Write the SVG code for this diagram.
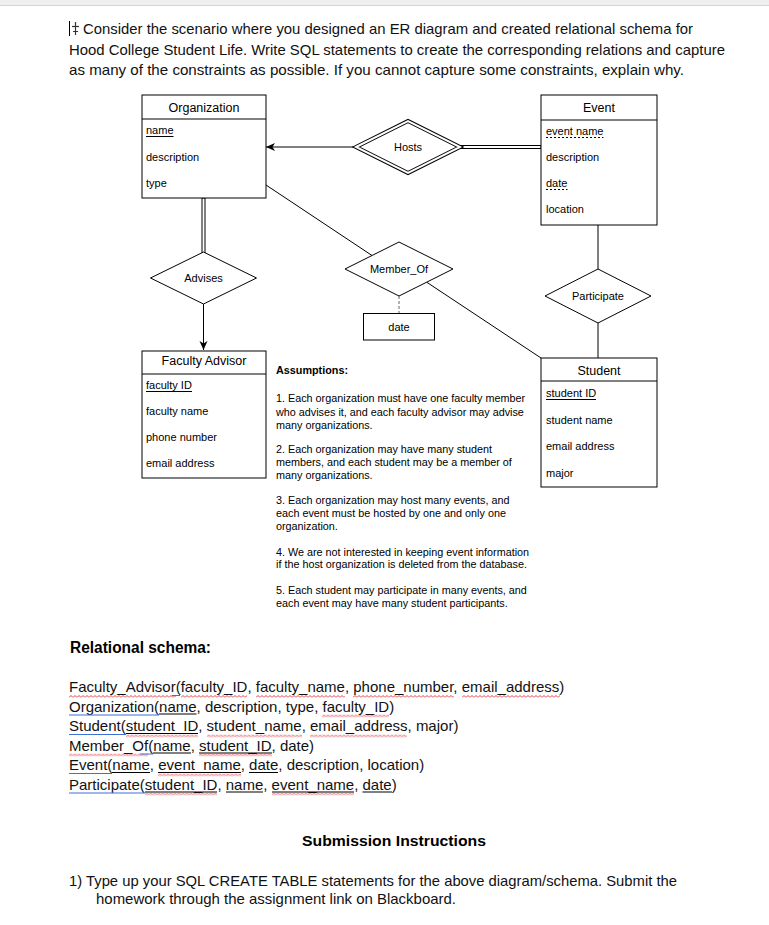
<svg xmlns="http://www.w3.org/2000/svg" width="769" height="925" viewBox="0 0 769 925">
<style>
.t{font-family:"Liberation Sans",Arial,sans-serif;fill:#000}
.a{font-size:11px}
.h{font-size:12.5px}
.as{font-size:10.8px}
.doc{font-size:15px;fill:#111}
.box{fill:#fff;stroke:#000;stroke-width:1}
.ln{stroke:#000;stroke-width:1;fill:none}
.dbo{stroke:#000;stroke-width:4;fill:none}
.dbi{stroke:#fff;stroke-width:2;fill:none}
.ul{stroke:#000;stroke-width:1}
.bl{stroke:#3f6fd8;stroke-width:1}
.sq{fill:url(#sq)}
</style>
<defs>
<pattern id="sq" width="4" height="3" patternUnits="userSpaceOnUse">
<polyline points="0,2.5 2,0.5 4,2.5" fill="none" stroke="#e0282e" stroke-width="0.9"/>
</pattern>
<marker id="arr" markerUnits="userSpaceOnUse" markerWidth="10" markerHeight="9" refX="9" refY="4" orient="auto">
<path d="M0,0 L9,4 L0,8 L2.5,4 z" fill="#000"/>
</marker>
</defs>
<rect width="769" height="925" fill="#fff"/>
<rect x="0" y="0" width="769" height="5" fill="#efefef"/>
<line x1="0" y1="5.5" x2="769" y2="5.5" stroke="#d4d4d4" stroke-width="1"/>

<g id="header">
<line x1="69.5" y1="21" x2="69.5" y2="36" stroke="#000" stroke-width="1"/>
<line x1="75.5" y1="22" x2="75.5" y2="35" stroke="#333" stroke-width="1.2"/>
<line x1="72" y1="26.5" x2="79" y2="26.5" stroke="#333" stroke-width="1.2"/>
<line x1="73" y1="31.5" x2="78" y2="31.5" stroke="#333" stroke-width="1"/>
<text class="t doc" x="83" y="34" textLength="610" lengthAdjust="spacingAndGlyphs">Consider the scenario where you designed an ER diagram and created relational schema for</text>
<text class="t doc" x="69" y="54.5" textLength="656" lengthAdjust="spacingAndGlyphs">Hood College Student Life. Write SQL statements to create the corresponding relations and capture</text>
<text class="t doc" x="69" y="75" textLength="615" lengthAdjust="spacingAndGlyphs">as many of the constraints as possible. If you cannot capture some constraints, explain why.</text>
</g>

<g id="connectors">
<line class="ln" x1="353" y1="147" x2="266" y2="147" marker-end="url(#arr)"/>
<line class="dbo" x1="458" y1="147" x2="541" y2="147"/>
<line class="dbi" x1="456" y1="147" x2="540.5" y2="147"/>
<line class="dbo" x1="203.5" y1="198" x2="203.5" y2="254"/>
<line class="dbi" x1="203.5" y1="198.5" x2="203.5" y2="256"/>
<line class="ln" x1="203.5" y1="304" x2="203.5" y2="350" marker-end="url(#arr)"/>
<line class="ln" x1="266" y1="185" x2="372" y2="255.5"/>
<line class="ln" x1="426.7" y1="282.2" x2="541" y2="358"/>
<line x1="399" y1="296" x2="399" y2="313" stroke="#666" stroke-width="1" stroke-dasharray="3,2"/>
<line class="ln" x1="598" y1="225" x2="598" y2="269"/>
<line class="ln" x1="598" y1="323" x2="598" y2="358"/>
</g>

<g id="organization">
<rect class="box" x="142" y="95" width="124" height="103"/>
<line class="ln" x1="142" y1="119" x2="266" y2="119"/>
<text class="t h" x="204" y="111.5" text-anchor="middle">Organization</text>
<text class="t a" x="146" y="134">name</text>
<line class="ul" x1="146" y1="136.5" x2="173.5" y2="136.5"/>
<text class="t a" x="146" y="161">description</text>
<text class="t a" x="146" y="187">type</text>
</g>

<g id="event">
<rect class="box" x="541" y="95" width="116" height="130"/>
<line class="ln" x1="541" y1="120" x2="657" y2="120"/>
<text class="t h" x="599" y="111.5" text-anchor="middle">Event</text>
<text class="t a" x="546" y="135">event name</text>
<line x1="546" y1="137.5" x2="603.5" y2="137.5" stroke="#000" stroke-width="1" stroke-dasharray="2,2"/>
<text class="t a" x="546" y="161">description</text>
<text class="t a" x="546" y="187">date</text>
<line x1="546" y1="189.5" x2="567.5" y2="189.5" stroke="#000" stroke-width="1" stroke-dasharray="2,2"/>
<text class="t a" x="546" y="213">location</text>
</g>

<g id="hosts">
<polygon class="dbo" points="356,147 408,121 460,147 408,173" fill="#fff"/>
<polygon class="dbi" points="356,147 408,121 460,147 408,173" fill="#fff"/>
<text class="t a" x="408" y="151" text-anchor="middle">Hosts</text>
</g>

<g id="advises">
<polygon class="box" points="150.5,278 203.5,252 256.5,278 203.5,304"/>
<text class="t a" x="203.5" y="282" text-anchor="middle">Advises</text>
</g>

<g id="member_of">
<polygon class="box" points="345,269 399,242 453,269 399,296"/>
<text class="t a" x="399" y="273" text-anchor="middle">Member_Of</text>
</g>

<g id="date_attr">
<rect class="box" x="363.5" y="313.5" width="71" height="26.5"/>
<text class="t a" x="399" y="331" text-anchor="middle">date</text>
</g>

<g id="participate">
<polygon class="box" points="545,296 598,269 651,296 598,323"/>
<text class="t a" x="598" y="300" text-anchor="middle">Participate</text>
</g>

<g id="faculty_advisor">
<rect class="box" x="142" y="351" width="124" height="127"/>
<line class="ln" x1="142" y1="374" x2="266" y2="374"/>
<text class="t h" x="204" y="365" text-anchor="middle">Faculty Advisor</text>
<text class="t a" x="146" y="389">faculty ID</text>
<line class="ul" x1="146" y1="391.5" x2="192" y2="391.5"/>
<text class="t a" x="146" y="415">faculty name</text>
<text class="t a" x="146" y="441">phone number</text>
<text class="t a" x="146" y="467">email address</text>
</g>

<g id="student">
<rect class="box" x="541" y="358" width="116" height="129"/>
<line class="ln" x1="541" y1="381" x2="657" y2="381"/>
<text class="t h" x="599" y="374.5" text-anchor="middle">Student</text>
<text class="t a" x="546" y="397">student ID</text>
<line class="ul" x1="546" y1="399.5" x2="596" y2="399.5"/>
<text class="t a" x="546" y="424">student name</text>
<text class="t a" x="546" y="450">email address</text>
<text class="t a" x="546" y="477">major</text>
</g>

<g id="assumptions">
<text class="t as" x="276" y="374" font-weight="bold">Assumptions:</text>
<text class="t as" x="276" y="402">1. Each organization must have one faculty member</text>
<text class="t as" x="276" y="415.5">who advises it, and each faculty advisor may advise</text>
<text class="t as" x="276" y="428.5">many organizations.</text>
<text class="t as" x="276" y="453">2. Each organization may have many student</text>
<text class="t as" x="276" y="466">members, and each student may be a member of</text>
<text class="t as" x="276" y="479">many organizations.</text>
<text class="t as" x="276" y="503.5">3. Each organization may host many events, and</text>
<text class="t as" x="276" y="516.5">each event must be hosted by one and only one</text>
<text class="t as" x="276" y="529.5">organization.</text>
<text class="t as" x="276" y="555.5">4. We are not interested in keeping event information</text>
<text class="t as" x="276" y="568">if the host organization is deleted from the database.</text>
<text class="t as" x="276" y="594">5. Each student may participate in many events, and</text>
<text class="t as" x="276" y="607">each event may have many student participants.</text>
</g>

<g id="schema">
<text class="t" x="70" y="653" font-size="16" font-weight="bold" textLength="141" lengthAdjust="spacingAndGlyphs">Relational schema:</text>
<text class="t doc" x="69" y="692">Faculty_Advisor(faculty_ID, faculty_name, phone_number, email_address)</text>
<text class="t doc" x="69" y="711.5">Organization(name, description, type, faculty_ID)</text>
<text class="t doc" x="69" y="731">Student(student_ID, student_name, email_address, major)</text>
<text class="t doc" x="69" y="750.5">Member_Of(name, student_ID, date)</text>
<text class="t doc" x="69" y="770">Event(name, event_name, date, description, location)</text>
<text class="t doc" x="69" y="789.5">Participate(student_ID, name, event_name, date)</text>
<!-- line 1 -->
<rect class="sq" transform="translate(69,695)" width="107" height="3"/>
<rect class="sq" transform="translate(181,695)" width="66" height="3"/>
<rect class="sq" transform="translate(256,695)" width="89" height="3"/>
<rect class="sq" transform="translate(353,695)" width="101" height="3"/>
<rect class="sq" transform="translate(462,695)" width="98" height="3"/>
<line class="bl" x1="172" y1="695.5" x2="180" y2="695.5"/>
<!-- line 2 -->
<line class="bl" x1="69" y1="715" x2="159" y2="715"/>
<line class="ul" x1="159" y1="714" x2="196.5" y2="714"/>
<rect class="sq" transform="translate(322,714.5)" width="67" height="3"/>
<!-- line 3 -->
<line class="bl" x1="69" y1="734.5" x2="126" y2="734.5"/>
<line class="ul" x1="126" y1="733.5" x2="198" y2="733.5"/>
<rect class="sq" transform="translate(126,734.5)" width="72" height="3"/>
<rect class="sq" transform="translate(207,734.5)" width="95" height="3"/>
<rect class="sq" transform="translate(310,734.5)" width="97" height="3"/>
<!-- line 4 -->
<rect class="sq" transform="translate(69,753.5)" width="79" height="3"/>
<line class="bl" x1="140" y1="754" x2="153" y2="754"/>
<line class="ul" x1="153" y1="753" x2="191" y2="753"/>
<line class="ul" x1="199" y1="753" x2="272" y2="753"/>
<rect class="sq" transform="translate(199,753.5)" width="73" height="3"/>
<!-- line 5 -->
<line class="bl" x1="69" y1="773.5" x2="112" y2="773.5"/>
<line class="ul" x1="112" y1="772.5" x2="150" y2="772.5"/>
<line class="ul" x1="158" y1="772.5" x2="241" y2="772.5"/>
<rect class="sq" transform="translate(158,773.5)" width="83" height="3"/>
<line class="ul" x1="249" y1="772.5" x2="278" y2="772.5"/>
<!-- line 6 -->
<line class="bl" x1="69" y1="793" x2="145" y2="793"/>
<line class="ul" x1="145" y1="792" x2="217" y2="792"/>
<rect class="sq" transform="translate(145,792.5)" width="72" height="3"/>
<line class="ul" x1="226" y1="792" x2="263" y2="792"/>
<line class="ul" x1="272" y1="792" x2="354" y2="792"/>
<rect class="sq" transform="translate(272,792.5)" width="82" height="3"/>
<line class="ul" x1="362.5" y1="792" x2="392" y2="792"/>
</g>

<g id="submission">
<text class="t" x="394" y="846" font-size="15" font-weight="bold" text-anchor="middle" textLength="184" lengthAdjust="spacingAndGlyphs">Submission Instructions</text>
<text class="t doc" x="69" y="885.5" textLength="608" lengthAdjust="spacingAndGlyphs">1) Type up your SQL CREATE TABLE statements for the above diagram/schema. Submit the</text>
<text class="t doc" x="96" y="903.5" textLength="360" lengthAdjust="spacingAndGlyphs">homework through the assignment link on Blackboard.</text>
</g>
</svg>
